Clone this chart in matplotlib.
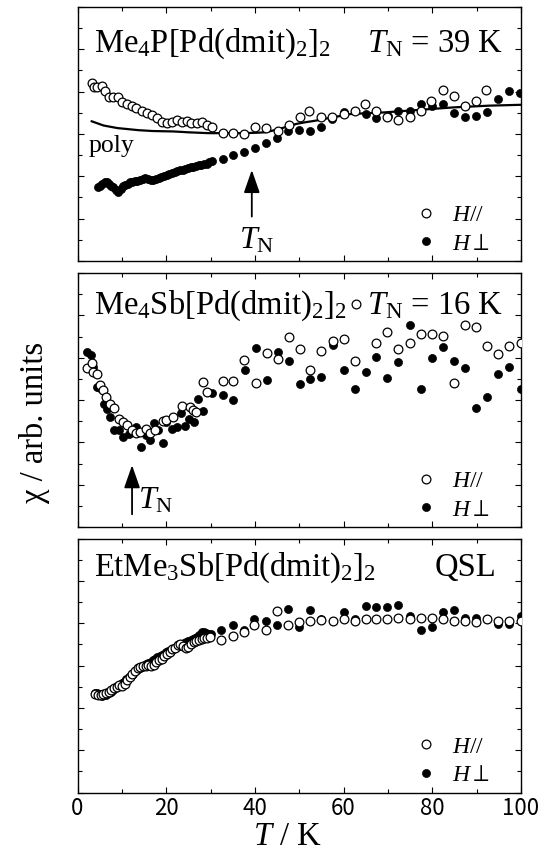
import matplotlib
matplotlib.use('Agg')
import matplotlib.pyplot as plt
from matplotlib.ticker import MultipleLocator

plt.rcParams['font.family'] = ['Liberation Serif', 'DejaVu Serif']
plt.rcParams['mathtext.fontset'] = 'custom'
plt.rcParams['mathtext.rm'] = 'Liberation Serif'
plt.rcParams['mathtext.it'] = 'Liberation Serif:italic'
plt.rcParams['mathtext.fallback'] = 'stix'

# ---- Me4P[Pd(dmit)2]2 ----
p_open_T = [3.2, 3.7, 4.5, 5.5, 6.2, 7.0, 8.1, 9.2, 10.0, 11.1, 12.2, 13.3, 14.5, 15.6, 16.7,
            17.9, 19.0, 20.1, 21.2, 22.4, 23.5, 24.6, 25.7, 26.9, 28.0, 29.1, 30.3, 32.7, 35.1,
            37.5, 40.0, 42.5, 45.1, 47.7, 50.2, 52.3, 54.8, 57.3, 60.1, 62.5, 64.8, 67.3, 69.8,
            72.3, 74.9, 77.5, 79.8, 82.5, 84.8, 87.3, 89.9, 92.2]
p_open_v = [4.21, 4.10, 4.12, 4.13, 4.02, 3.87, 3.87, 3.88, 3.76, 3.72, 3.66, 3.61, 3.55, 3.50, 3.45,
            3.37, 3.29, 3.25, 3.29, 3.33, 3.29, 3.31, 3.25, 3.26, 3.29, 3.21, 3.17, 3.03, 3.03,
            3.00, 3.17, 3.13, 3.08, 3.21, 3.40, 3.55, 3.41, 3.41, 3.47, 3.55, 3.71, 3.55, 3.39,
            3.34, 3.39, 3.55, 3.77, 4.03, 3.89, 3.67, 3.79, 4.04]
p_fill_T = [4.6, 5.1, 5.6, 6.1, 6.6, 7.1, 7.6, 8.1, 8.6, 9.2, 9.7, 10.2, 10.7, 11.3, 11.8, 12.3,
            12.9, 13.5, 14.1, 14.7, 15.3, 15.9, 16.5, 17.1, 17.7, 18.3, 18.9, 19.5, 20.1, 20.7,
            21.3, 21.9, 22.5, 23.1, 23.7, 24.3, 24.9, 25.5, 26.1, 26.7, 27.3, 27.9, 28.5, 29.1,
            29.7, 30.3, 32.7, 35.0, 37.5, 40.0, 42.6, 45.0, 47.5, 50.0, 52.4, 54.9, 57.4, 60.0,
            62.5, 65.0, 67.4, 69.9, 72.3, 74.9, 77.4, 79.9, 82.4, 84.9, 87.4, 89.9, 92.3, 94.8,
            97.3, 99.8]
p_fill_v = [1.74, 1.76, 1.82, 1.86, 1.87, 1.83, 1.77, 1.74, 1.68, 1.64, 1.70, 1.76, 1.80, 1.83,
            1.86, 1.87, 1.89, 1.90, 1.91, 1.93, 1.95, 1.94, 1.92, 1.91, 1.94, 1.97, 1.99, 2.01,
            2.03, 2.05, 2.08, 2.10, 2.12, 2.15, 2.16, 2.18, 2.20, 2.21, 2.23, 2.24, 2.26, 2.27,
            2.28, 2.30, 2.33, 2.36, 2.40, 2.50, 2.58, 2.66, 2.79, 2.90, 3.08, 3.09, 3.08, 3.16,
            3.35, 3.51, 3.55, 3.47, 3.38, 3.43, 3.54, 3.55, 3.71, 3.65, 3.71, 3.50, 3.39, 3.43,
            3.51, 3.83, 4.01, 3.96]
poly_T = [3.2, 5.9, 9.0, 13.8, 17.0, 21.7, 25.0, 29.6, 33.0, 37.5, 40.5, 42.3, 44.0, 45.5,
          47.5, 49.4, 51.5, 53.4, 55.5, 57.3, 59.5, 61.3, 65.0, 69.2, 73.0, 77.1, 81.0, 85.0,
          89.0, 92.9, 96.5, 100.0]
poly_v = [3.30, 3.20, 3.14, 3.09, 3.07, 3.06, 3.04, 3.02, 3.02, 3.02, 3.03, 3.04, 3.08, 3.12,
          3.18, 3.24, 3.28, 3.31, 3.35, 3.39, 3.43, 3.47, 3.49, 3.51, 3.54, 3.57, 3.60, 3.63,
          3.65, 3.67, 3.68, 3.69]

# ---- Me4Sb[Pd(dmit)2]2 ----
s_open_T = [2.2, 3.2, 3.6, 4.3, 5.1, 5.8, 6.4, 7.3, 8.2, 9.4, 10.3, 11.2, 12.2, 13.3, 14.2, 15.4,
            16.4, 17.4, 19.2, 20.0, 21.5, 23.5, 25.3, 26.0, 26.8, 28.2, 29.1, 32.7, 35.1, 37.5,
            40.2, 42.7, 45.3, 47.8, 50.2, 52.4, 54.8, 57.5, 60.1, 62.5, 62.7, 67.4, 69.8, 72.3,
            74.9, 77.5, 80.0, 82.5, 85.0, 87.4, 89.9, 92.3, 94.9, 97.4, 100.0]
s_open_v = [3.75, 3.87, 3.67, 3.61, 3.35, 3.24, 3.06, 2.91, 2.80, 2.54, 2.49, 2.41, 2.29, 2.21,
            2.25, 2.31, 2.21, 2.29, 2.51, 2.53, 2.59, 2.86, 2.83, 2.76, 2.72, 3.43, 3.20, 3.46,
            3.46, 3.95, 3.39, 4.12, 3.96, 4.50, 4.20, 3.71, 4.16, 4.40, 4.43, 3.92, 5.27, 4.35,
            4.61, 4.20, 4.35, 4.57, 4.57, 4.51, 3.39, 4.77, 4.73, 4.28, 4.08, 4.28, 4.35]
s_fill_T = [2.2, 3.0, 3.6, 4.3, 5.1, 6.0, 6.7, 7.3, 8.2, 9.4, 10.3, 11.5, 12.4, 13.3, 14.3, 15.4,
            16.3, 17.2, 18.2, 19.2, 20.0, 21.2, 22.4, 23.3, 24.3, 25.2, 26.3, 27.2, 28.2, 29.1,
            30.3, 32.7, 35.1, 37.8, 40.2, 42.7, 45.3, 47.8, 50.2, 52.4, 54.9, 57.5, 60.1, 62.5,
            65.0, 67.4, 69.8, 72.3, 74.9, 77.5, 80.0, 82.5, 85.0, 87.4, 89.9, 92.3, 94.9, 97.4,
            100.0]
s_fill_v = [4.14, 4.06, 3.79, 3.30, 3.28, 2.91, 2.78, 2.59, 2.29, 2.29, 2.12, 2.20, 2.25, 2.37,
            1.90, 2.17, 2.06, 2.45, 2.29, 1.99, 2.49, 2.31, 2.37, 2.70, 2.39, 2.54, 2.49, 3.02,
            2.75, 3.20, 3.16, 3.12, 3.00, 3.71, 4.22, 3.47, 4.14, 3.92, 3.38, 3.49, 3.55, 4.30,
            3.71, 3.25, 3.67, 4.01, 3.51, 3.90, 4.77, 3.25, 4.00, 4.26, 3.93, 3.75, 2.80, 3.06,
            3.61, 3.77, 3.25]

# ---- EtMe3Sb[Pd(dmit)2]2 ----
q_open_T = [4.0, 4.6, 5.2, 5.8, 6.4, 7.0, 7.6, 8.2, 8.8, 9.4, 10.0, 10.6, 11.2, 11.8, 12.4, 13.0,
            13.6, 14.2, 14.8, 15.4, 16.0, 16.6, 17.2, 17.8, 18.4, 19.0, 19.6, 20.2, 20.8, 21.4,
            22.0, 22.6, 23.2, 23.8, 24.4, 25.0, 25.6, 26.2, 26.8, 27.4, 28.0, 28.6, 29.2, 29.8,
            32.4, 35.0, 37.5, 39.9, 42.4, 44.9, 47.4, 50.0, 52.4, 54.9, 57.5, 60.1, 62.5, 65.0,
            67.4, 69.8, 72.3, 74.9, 77.5, 80.0, 82.5, 85.0, 87.4, 89.9, 92.3, 94.9, 97.4, 100.0]
q_open_v = [2.33, 2.31, 2.30, 2.33, 2.35, 2.37, 2.42, 2.47, 2.50, 2.53, 2.52, 2.56, 2.65, 2.74,
            2.80, 2.86, 2.93, 2.96, 2.98, 3.00, 3.02, 3.00, 3.02, 3.08, 3.13, 3.16, 3.22, 3.28,
            3.33, 3.38, 3.42, 3.48, 3.50, 3.45, 3.42, 3.44, 3.50, 3.55, 3.58, 3.60, 3.62, 3.64,
            3.66, 3.67, 3.61, 3.69, 3.79, 3.96, 3.84, 4.28, 3.96, 4.03, 4.05, 4.08, 4.05, 4.10,
            4.06, 4.10, 4.10, 4.09, 4.13, 4.09, 4.13, 4.12, 4.10, 4.06, 4.06, 4.03, 4.10, 4.06,
            4.04, 4.05]
q_fill_T = [4.0, 4.5, 5.0, 5.5, 6.0, 6.5, 7.0, 7.5, 8.0, 8.5, 9.0, 9.5, 10.0, 10.5, 11.0, 11.5,
            12.0, 12.5, 13.0, 13.5, 14.0, 14.5, 15.0, 15.5, 16.0, 16.5, 17.0, 17.5, 18.0, 18.5,
            19.0, 19.5, 20.0, 20.5, 21.0, 21.5, 22.0, 22.5, 23.0, 23.5, 24.0, 24.5, 25.0, 25.5,
            26.0, 26.5, 27.0, 27.5, 28.0, 28.5, 29.0, 29.5, 30.0, 32.4, 35.0, 37.5, 39.9, 42.4,
            44.9, 47.4, 50.0, 52.4, 54.9, 57.5, 60.1, 62.5, 65.0, 67.4, 69.8, 72.3, 74.9, 77.5,
            80.0, 82.5, 85.0, 87.4, 89.9, 92.3, 94.9, 97.4, 100.0]
q_fill_v = [2.34, 2.36, 2.33, 2.29, 2.31, 2.30, 2.34, 2.38, 2.43, 2.48, 2.52, 2.55, 2.58, 2.62,
            2.67, 2.72, 2.76, 2.81, 2.86, 2.90, 2.93, 2.97, 3.00, 3.03, 3.06, 3.09, 3.12, 3.16,
            3.19, 3.22, 3.25, 3.28, 3.32, 3.35, 3.37, 3.40, 3.42, 3.44, 3.46, 3.49, 3.52, 3.55,
            3.58, 3.60, 3.62, 3.64, 3.68, 3.72, 3.80, 3.78, 3.76, 3.75, 3.74, 3.84, 3.95, 3.83,
            4.10, 4.05, 3.96, 4.34, 3.92, 4.30, 4.10, 4.05, 4.26, 4.10, 4.40, 4.38, 4.38, 4.42,
            4.18, 3.83, 3.92, 4.26, 4.32, 4.13, 4.13, 4.10, 3.99, 3.97, 4.18]

fig = plt.figure(figsize=(5.49, 8.52), dpi=100)
W, H = 549.0, 852.0
left, right = 77.5, 521.0
panels = [(7, 261), (273, 527), (538.5, 792.5)]
axes = [fig.add_axes([left / W, 1 - b / H, (right - left) / W, (b - t) / H]) for t, b in panels]

open_kw = dict(ls='none', marker='o', ms=6.3, mfc='white', mec='black', mew=0.9)
fill_kw = dict(ls='none', marker='o', ms=5.8, mfc='black', mec='black', mew=0.5)

datasets = [(p_open_T, p_open_v, p_fill_T, p_fill_v),
            (s_open_T, s_open_v, s_fill_T, s_fill_v),
            (q_open_T, q_open_v, q_fill_T, q_fill_v)]

for ax, (oT, ov, fT, fv) in zip(axes, datasets):
    ax.plot(oT, ov, label=r'$H//$', zorder=3, **open_kw)
    ax.plot(fT, fv, label=r'$H\perp$', zorder=2, **fill_kw)
    ax.set_xlim(0, 100)
    ax.set_ylim(0, 6)
    ax.xaxis.set_major_locator(MultipleLocator(20))
    ax.xaxis.set_minor_locator(MultipleLocator(10))
    ax.yaxis.set_major_locator(MultipleLocator(1))
    ax.yaxis.set_minor_locator(MultipleLocator(0.5))
    ax.tick_params(which='both', direction='in', top=True, right=True, labelleft=False,
                   width=0.8)
    ax.tick_params(which='major', length=4.3)
    ax.tick_params(which='minor', length=2.9)
    for sp in ax.spines.values():
        sp.set_linewidth(1.0)
    ax.legend(loc='lower right', bbox_to_anchor=(0.93, 0.025), frameon=False, fontsize=17,
              handlelength=1.0, handletextpad=0.6, labelspacing=0.3, borderpad=0,
              borderaxespad=0)

for ax in axes[:2]:
    ax.tick_params(labelbottom=False)

ax1, ax2, ax3 = axes
ax1.plot(poly_T, poly_v, color='black', lw=1.6, zorder=1)
ax1.text(2.4, 2.72, 'poly', fontsize=18.5, ha='left', va='center')
ax1.text(3.8, 5.13, r'Me$_4$P[Pd(dmit)$_2$]$_2$', fontsize=23.5, ha='left', va='center')
ax1.text(96.0, 5.13, r'$T_{\rm N}$ = 39 K', fontsize=23.5, ha='right', va='center')
ax1.annotate('', xy=(39.3, 2.15), xytext=(39.3, 1.05),
             arrowprops=dict(arrowstyle='-|>,head_length=1.0,head_width=0.35',
                             color='black', lw=1.3, mutation_scale=14, shrinkA=0, shrinkB=0))
ax1.text(40.3, 0.47, r'$T_{\rm N}$', fontsize=23, ha='center', va='center')

ax2.text(3.8, 5.22, r'Me$_4$Sb[Pd(dmit)$_2$]$_2$', fontsize=23.5, ha='left', va='center')
ax2.text(96.0, 5.22, r'$T_{\rm N}$ = 16 K', fontsize=23.5, ha='right', va='center')
ax2.annotate('', xy=(12.3, 1.46), xytext=(12.3, 0.3),
             arrowprops=dict(arrowstyle='-|>,head_length=1.0,head_width=0.35',
                             color='black', lw=1.3, mutation_scale=14, shrinkA=0, shrinkB=0))
ax2.text(13.6, 0.62, r'$T_{\rm N}$', fontsize=23, ha='left', va='center')

ax3.text(3.8, 5.3, r'EtMe$_3$Sb[Pd(dmit)$_2$]$_2$', fontsize=23.5, ha='left', va='center')
ax3.text(94.5, 5.3, 'QSL', fontsize=23.5, ha='right', va='center')

for lab in ax3.get_xticklabels():
    lab.set_fontfamily(['Noto Sans CJK JP', 'DejaVu Sans'])
    lab.set_fontsize(16)
ax3.tick_params(axis='x', pad=3)

fig.text(287 / W, 1 - 837 / H, r'$T$ / K', ha='center', va='center', fontsize=23.5)
fig.text(35 / W, 1 - 422 / H, 'χ / arb. units', rotation=90, ha='center', va='center',
         fontsize=23.5)

fig.savefig('out.png', dpi=100)
